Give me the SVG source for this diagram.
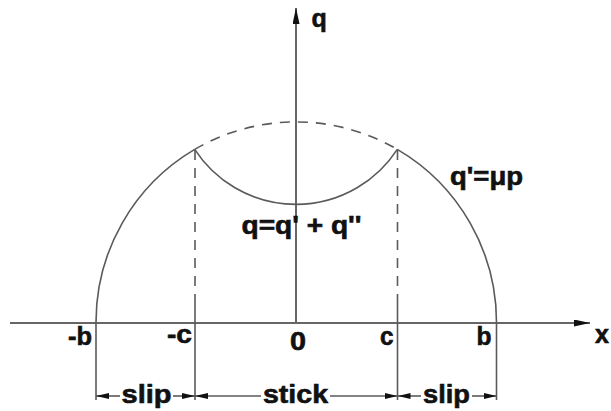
<svg xmlns="http://www.w3.org/2000/svg" width="611" height="411" viewBox="0 0 611 411">
<style>
.ln{fill:none;stroke:#5a5a5a;stroke-width:1.6}
.ax{fill:none;stroke:#666;stroke-width:2}
.ds{fill:none;stroke:#5a5a5a;stroke-width:1.6;stroke-dasharray:10 8}
.t{font-family:"Liberation Sans",Arial,sans-serif;font-weight:bold;font-size:25px;fill:#111;stroke:#111;stroke-width:0.6}
</style>
<defs>
<marker id="dim" viewBox="0 -3 13 6" refX="13" refY="0" markerWidth="13" markerHeight="6" markerUnits="userSpaceOnUse" orient="auto-start-reverse"><path d="M0,-3 L13,0 L0,3 z" fill="#111"/></marker>
<marker id="axa" viewBox="0 -3.5 16 7" refX="16" refY="0" markerWidth="16" markerHeight="7" markerUnits="userSpaceOnUse" orient="auto"><path d="M0,-3.5 L16,0 L0,3.5 z" fill="#111"/></marker>
</defs>
<rect width="611" height="411" fill="#fff"/>
<g id="axes">
<path class="ax" d="M10,323 H590" marker-end="url(#axa)"/>
<path class="ax" d="M296,323 V8" marker-end="url(#axa)"/>
<text class="t" x="311.5" y="27">q</text>
<text class="t" x="595" y="343">x</text>
</g>
<g id="curves">
<path class="ln" d="M96,323 A200.5,200.5 0 0 1 194.7,149.4"/>
<path class="ds" d="M194.7,149.4 A200.5,200.5 0 0 1 397.3,149.4"/>
<path class="ln" d="M397.3,149.4 A200.5,200.5 0 0 1 496.5,323"/>
<path class="ln" d="M194.7,149.4 A120.8,120.8 0 0 0 397.3,149.4"/>
</g>
<g id="extensions">
<path class="ln" d="M96,323 V400"/>
<path class="ds" d="M195,150 V302"/>
<path class="ln" d="M195,302 V400"/>
<path class="ds" d="M397.5,150 V302"/>
<path class="ln" d="M397.5,302 V400"/>
<path class="ln" d="M496.5,323 V400"/>
</g>
<g id="labels">
<text class="t" x="68" y="345" textLength="24" lengthAdjust="spacingAndGlyphs">-b</text>
<text class="t" x="167" y="343" textLength="25" lengthAdjust="spacingAndGlyphs">-c</text>
<text class="t" x="290" y="350" textLength="16" lengthAdjust="spacingAndGlyphs">0</text>
<text class="t" x="380" y="345" textLength="13.5" lengthAdjust="spacingAndGlyphs">c</text>
<text class="t" x="476.5" y="345" textLength="15" lengthAdjust="spacingAndGlyphs">b</text>
<text class="t" x="450" y="185" textLength="73" lengthAdjust="spacingAndGlyphs">q'=μp</text>
<text class="t" x="241.5" y="234" textLength="120" lengthAdjust="spacingAndGlyphs">q=q' + q''</text>
</g>
<g id="dimensions">
<path class="ln" d="M96,396 H120" marker-start="url(#dim)"/>
<path class="ln" d="M173,396 H195" marker-end="url(#dim)"/>
<path class="ln" d="M195,396 H261" marker-start="url(#dim)"/>
<path class="ln" d="M330,396 H397.5" marker-end="url(#dim)"/>
<path class="ln" d="M397.5,396 H421" marker-start="url(#dim)"/>
<path class="ln" d="M472,396 H496.5" marker-end="url(#dim)"/>
<text class="t" x="121.5" y="403" textLength="50" lengthAdjust="spacingAndGlyphs">slip</text>
<text class="t" x="263" y="403" textLength="65" lengthAdjust="spacingAndGlyphs">stick</text>
<text class="t" x="423" y="403" textLength="47" lengthAdjust="spacingAndGlyphs">slip</text>
</g>
</svg>
